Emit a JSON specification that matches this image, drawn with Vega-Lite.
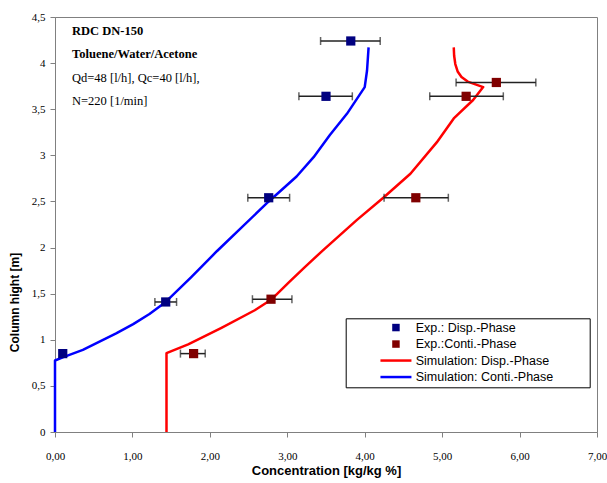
{
  "$schema": "https://vega.github.io/schema/vega-lite/v6.json",
  "width": 542,
  "height": 415,
  "autosize": {"type": "none"},
  "padding": {"left": 55, "top": 17, "right": 10, "bottom": 51},
  "background": "white",
  "config": {
    "view": {"stroke": "#808080", "strokeWidth": 1},
    "axis": {
      "domainColor": "#808080",
      "tickColor": "#808080",
      "grid": false,
      "labelFont": "Liberation Serif",
      "labelFontSize": 11,
      "labelColor": "#000000",
      "titleFont": "Liberation Sans",
      "titleFontWeight": "bold",
      "titleColor": "#000000",
      "tickSize": 5
    }
  },
  "datasets": {
    "pts": [
      {"series": "Exp.: Disp.-Phase", "x": 0.10, "y": 0.85},
      {"series": "Exp.: Disp.-Phase", "x": 1.43, "y": 1.41, "xlo": 1.29, "xhi": 1.57},
      {"series": "Exp.: Disp.-Phase", "x": 2.76, "y": 2.54, "xlo": 2.49, "xhi": 3.03},
      {"series": "Exp.: Disp.-Phase", "x": 3.50, "y": 3.64, "xlo": 3.15, "xhi": 3.84},
      {"series": "Exp.: Disp.-Phase", "x": 3.82, "y": 4.24, "xlo": 3.43, "xhi": 4.20},
      {"series": "Exp.:Conti.-Phase", "x": 1.79, "y": 0.85, "xlo": 1.62, "xhi": 1.94},
      {"series": "Exp.:Conti.-Phase", "x": 2.79, "y": 1.44, "xlo": 2.55, "xhi": 3.06},
      {"series": "Exp.:Conti.-Phase", "x": 4.66, "y": 2.54, "xlo": 4.25, "xhi": 5.08},
      {"series": "Exp.:Conti.-Phase", "x": 5.31, "y": 3.64, "xlo": 4.84, "xhi": 5.79},
      {"series": "Exp.:Conti.-Phase", "x": 5.70, "y": 3.79, "xlo": 5.18, "xhi": 6.21}
    ],
    "sim": [
      {"series": "Simulation: Disp.-Phase", "o": 1, "x": 1.44, "y": 0},
      {"series": "Simulation: Disp.-Phase", "o": 2, "x": 1.44, "y": 0.855},
      {"series": "Simulation: Disp.-Phase", "o": 3, "x": 1.72, "y": 0.95},
      {"series": "Simulation: Disp.-Phase", "o": 4, "x": 2.15, "y": 1.13},
      {"series": "Simulation: Disp.-Phase", "o": 5, "x": 2.58, "y": 1.32},
      {"series": "Simulation: Disp.-Phase", "o": 6, "x": 2.80, "y": 1.44},
      {"series": "Simulation: Disp.-Phase", "o": 7, "x": 3.03, "y": 1.63},
      {"series": "Simulation: Disp.-Phase", "o": 8, "x": 3.23, "y": 1.79},
      {"series": "Simulation: Disp.-Phase", "o": 9, "x": 3.46, "y": 1.97},
      {"series": "Simulation: Disp.-Phase", "o": 10, "x": 3.90, "y": 2.30},
      {"series": "Simulation: Disp.-Phase", "o": 11, "x": 4.24, "y": 2.54},
      {"series": "Simulation: Disp.-Phase", "o": 12, "x": 4.59, "y": 2.80},
      {"series": "Simulation: Disp.-Phase", "o": 13, "x": 4.93, "y": 3.14},
      {"series": "Simulation: Disp.-Phase", "o": 14, "x": 5.15, "y": 3.40},
      {"series": "Simulation: Disp.-Phase", "o": 15, "x": 5.40, "y": 3.60},
      {"series": "Simulation: Disp.-Phase", "o": 16, "x": 5.53, "y": 3.74},
      {"series": "Simulation: Disp.-Phase", "o": 17, "x": 5.43, "y": 3.77},
      {"series": "Simulation: Disp.-Phase", "o": 18, "x": 5.33, "y": 3.80},
      {"series": "Simulation: Disp.-Phase", "o": 19, "x": 5.25, "y": 3.85},
      {"series": "Simulation: Disp.-Phase", "o": 20, "x": 5.20, "y": 3.91},
      {"series": "Simulation: Disp.-Phase", "o": 21, "x": 5.17, "y": 3.99},
      {"series": "Simulation: Disp.-Phase", "o": 22, "x": 5.155, "y": 4.08},
      {"series": "Simulation: Disp.-Phase", "o": 23, "x": 5.15, "y": 4.17},
      {"series": "Simulation: Conti.-Phase", "o": 1, "x": 0.0, "y": 0},
      {"series": "Simulation: Conti.-Phase", "o": 2, "x": 0.0, "y": 0.775},
      {"series": "Simulation: Conti.-Phase", "o": 3, "x": 0.10, "y": 0.81},
      {"series": "Simulation: Conti.-Phase", "o": 4, "x": 0.36, "y": 0.89},
      {"series": "Simulation: Conti.-Phase", "o": 5, "x": 0.79, "y": 1.07},
      {"series": "Simulation: Conti.-Phase", "o": 6, "x": 1.01, "y": 1.17},
      {"series": "Simulation: Conti.-Phase", "o": 7, "x": 1.22, "y": 1.28},
      {"series": "Simulation: Conti.-Phase", "o": 8, "x": 1.43, "y": 1.41},
      {"series": "Simulation: Conti.-Phase", "o": 9, "x": 1.76, "y": 1.68},
      {"series": "Simulation: Conti.-Phase", "o": 10, "x": 2.09, "y": 1.96},
      {"series": "Simulation: Conti.-Phase", "o": 11, "x": 2.76, "y": 2.50},
      {"series": "Simulation: Conti.-Phase", "o": 12, "x": 3.12, "y": 2.77},
      {"series": "Simulation: Conti.-Phase", "o": 13, "x": 3.34, "y": 2.98},
      {"series": "Simulation: Conti.-Phase", "o": 14, "x": 3.55, "y": 3.22},
      {"series": "Simulation: Conti.-Phase", "o": 15, "x": 3.77, "y": 3.45},
      {"series": "Simulation: Conti.-Phase", "o": 16, "x": 4.00, "y": 3.74},
      {"series": "Simulation: Conti.-Phase", "o": 17, "x": 4.03, "y": 3.92},
      {"series": "Simulation: Conti.-Phase", "o": 18, "x": 4.05, "y": 4.17}
    ],
    "notes": [
      {"text": "RDC DN-150", "x": 0.22, "y": 4.30, "bold": true},
      {"text": "Toluene/Water/Acetone", "x": 0.22, "y": 4.06, "bold": true},
      {"text": "Qd=48 [l/h], Qc=40 [l/h],", "x": 0.22, "y": 3.80, "bold": false},
      {"text": "N=220 [1/min]", "x": 0.22, "y": 3.55, "bold": false}
    ]
  },
  "layer": [
    {
      "data": {"name": "sim"},
      "mark": {"type": "line", "strokeWidth": 2.5, "strokeJoin": "round"},
      "encoding": {
        "x": {
          "field": "x", "type": "quantitative",
          "scale": {"domain": [0, 7], "nice": false, "zero": false},
          "title": "Concentration [kg/kg %]",
          "axis": {
            "values": [0, 1, 2, 3, 4, 5, 6, 7],
            "labelExpr": "replace(format(datum.value, '.2f'), '.', ',')",
            "labelFlush": false,
            "labelOverlap": false,
            "labelPadding": 13,
            "titlePadding": 3,
            "titleFontSize": 13
          }
        },
        "y": {
          "field": "y", "type": "quantitative",
          "scale": {"domain": [0, 4.5], "nice": false, "zero": false},
          "title": "Column hight [m]",
          "axis": {
            "values": [0, 0.5, 1, 1.5, 2, 2.5, 3, 3.5, 4, 4.5],
            "labelExpr": "replace(toString(datum.value), '.', ',')",
            "labelFlush": false,
            "labelOverlap": false,
            "labelPadding": 5,
            "titlePadding": 10,
            "titleFontSize": 12,
            "titleY": 285
          }
        },
        "color": {
          "field": "series", "type": "nominal",
          "scale": {
            "domain": ["Exp.: Disp.-Phase", "Exp.:Conti.-Phase", "Simulation: Disp.-Phase", "Simulation: Conti.-Phase"],
            "range": ["#000080", "#800000", "#FF0000", "#0000FF"]
          },
          "legend": {
            "orient": "none",
            "legendX": 290.7,
            "legendY": 301.3,
            "title": " ",
            "titleOrient": "right",
            "titlePadding": 33,
            "strokeColor": "#000000",
            "fillColor": "#FFFFFF",
            "padding": 3,
            "labelFont": "Liberation Sans",
            "labelFontSize": 12.5,
            "labelColor": "#000000",
            "labelOffset": 13.5,
            "symbolSize": 56,
            "symbolOffset": 41,
            "rowPadding": 3.5,
            "encode": {
              "symbols": {
                "update": {
                  "shape": {"signal": "(datum.value == 'Exp.: Disp.-Phase' || datum.value == 'Exp.:Conti.-Phase') ? 'square' : 'stroke'"},
                  "size": {"signal": "(datum.value == 'Exp.: Disp.-Phase' || datum.value == 'Exp.:Conti.-Phase') ? 56 : 961"},
                  "fill": {"signal": "datum.value == 'Exp.: Disp.-Phase' ? '#000080' : (datum.value == 'Exp.:Conti.-Phase' ? '#800000' : 'transparent')"},
                  "stroke": {"signal": "datum.value == 'Simulation: Disp.-Phase' ? '#FF0000' : (datum.value == 'Simulation: Conti.-Phase' ? '#0000FF' : 'transparent')"},
                  "strokeWidth": {"signal": "(datum.value == 'Exp.: Disp.-Phase' || datum.value == 'Exp.:Conti.-Phase') ? 0 : 2.5"}
                }
              }
            }
          }
        },
        "order": {"field": "o", "type": "quantitative"}
      }
    },
    {
      "data": {"name": "pts"},
      "transform": [{"filter": "isValid(datum.xlo)"}],
      "mark": {"type": "rule", "color": "#222222", "strokeWidth": 1.5},
      "encoding": {
        "x": {"field": "xlo", "type": "quantitative", "scale": {"domain": [0, 7], "nice": false, "zero": false}, "title": "Concentration [kg/kg %]"},
        "x2": {"field": "xhi"},
        "y": {"field": "y", "type": "quantitative", "scale": {"domain": [0, 4.5], "nice": false, "zero": false}, "title": "Column hight [m]"}
      }
    },
    {
      "data": {"name": "pts"},
      "transform": [{"filter": "isValid(datum.xlo)"}],
      "mark": {"type": "tick", "orient": "vertical", "color": "#222222", "thickness": 1.5, "size": 8},
      "encoding": {
        "x": {"field": "xlo", "type": "quantitative", "scale": {"domain": [0, 7], "nice": false, "zero": false}, "title": "Concentration [kg/kg %]"},
        "y": {"field": "y", "type": "quantitative", "scale": {"domain": [0, 4.5], "nice": false, "zero": false}, "title": "Column hight [m]"}
      }
    },
    {
      "data": {"name": "pts"},
      "transform": [{"filter": "isValid(datum.xhi)"}],
      "mark": {"type": "tick", "orient": "vertical", "color": "#222222", "thickness": 1.5, "size": 8},
      "encoding": {
        "x": {"field": "xhi", "type": "quantitative", "scale": {"domain": [0, 7], "nice": false, "zero": false}, "title": "Concentration [kg/kg %]"},
        "y": {"field": "y", "type": "quantitative", "scale": {"domain": [0, 4.5], "nice": false, "zero": false}, "title": "Column hight [m]"}
      }
    },
    {
      "data": {"name": "pts"},
      "mark": {"type": "point", "shape": "square", "filled": true, "size": 85, "opacity": 1},
      "encoding": {
        "x": {"field": "x", "type": "quantitative", "scale": {"domain": [0, 7], "nice": false, "zero": false}, "title": "Concentration [kg/kg %]"},
        "y": {"field": "y", "type": "quantitative", "scale": {"domain": [0, 4.5], "nice": false, "zero": false}, "title": "Column hight [m]"},
        "color": {"field": "series", "type": "nominal"}
      }
    },
    {
      "data": {"name": "notes"},
      "transform": [{"filter": "datum.bold"}],
      "mark": {"type": "text", "align": "left", "baseline": "alphabetic", "font": "Liberation Serif", "fontSize": 12.5, "fontWeight": "bold", "color": "#000000"},
      "encoding": {
        "x": {"field": "x", "type": "quantitative", "scale": {"domain": [0, 7], "nice": false, "zero": false}, "title": "Concentration [kg/kg %]"},
        "y": {"field": "y", "type": "quantitative", "scale": {"domain": [0, 4.5], "nice": false, "zero": false}, "title": "Column hight [m]"},
        "text": {"field": "text"}
      }
    },
    {
      "data": {"name": "notes"},
      "transform": [{"filter": "!datum.bold"}],
      "mark": {"type": "text", "align": "left", "baseline": "alphabetic", "font": "Liberation Serif", "fontSize": 12.5, "color": "#000000"},
      "encoding": {
        "x": {"field": "x", "type": "quantitative", "scale": {"domain": [0, 7], "nice": false, "zero": false}, "title": "Concentration [kg/kg %]"},
        "y": {"field": "y", "type": "quantitative", "scale": {"domain": [0, 4.5], "nice": false, "zero": false}, "title": "Column hight [m]"},
        "text": {"field": "text"}
      }
    }
  ]
}
